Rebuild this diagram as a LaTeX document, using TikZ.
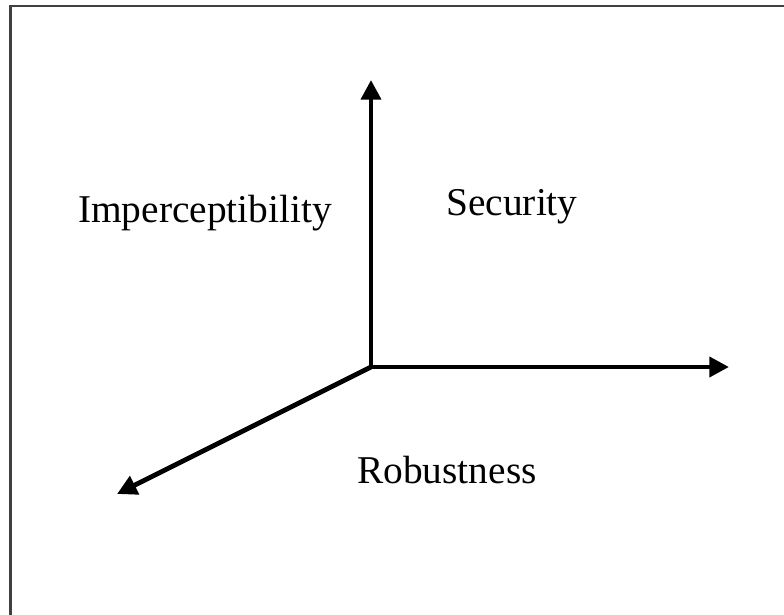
\documentclass[tikz,border=0pt]{standalone}
\usepackage{fontspec}
\setmainfont{Liberation Serif}
\usepackage{tikz}
\usetikzlibrary{arrows.meta,positioning,calc}

\tikzset{
    axis/.style={line width=3.4pt, -{Triangle[length=14pt, width=14pt]}},
    lbl/.style={font=\fontsize{28}{34}\selectfont, anchor=base},
}

\begin{document}
\begin{tikzpicture}[x=0.025cm, y=-0.025cm]
\useasboundingbox (0,0) rectangle (784,615);
% Frame: only top and left edges show
\draw[black!75, line width=1.5pt] (10.5,615) -- (10.5,6) -- (784,6);
% Axes from a common origin
\coordinate (o) at (371,367);
\coordinate (up) at (371,80);
\coordinate (right) at (729,367);
\coordinate (down) at (117,494);
\draw[axis] (o) -- (up);
\draw[axis] (o) -- (right);
\draw[axis, line cap=round] (o) -- (down);
% Labels
\node[lbl] (imp) at (205,223) {Imperceptibility};
\node[lbl] (sec) at (512,216) {Security};
\node[lbl] (rob) at (447,484) {Robustness};
\end{tikzpicture}
\end{document}
